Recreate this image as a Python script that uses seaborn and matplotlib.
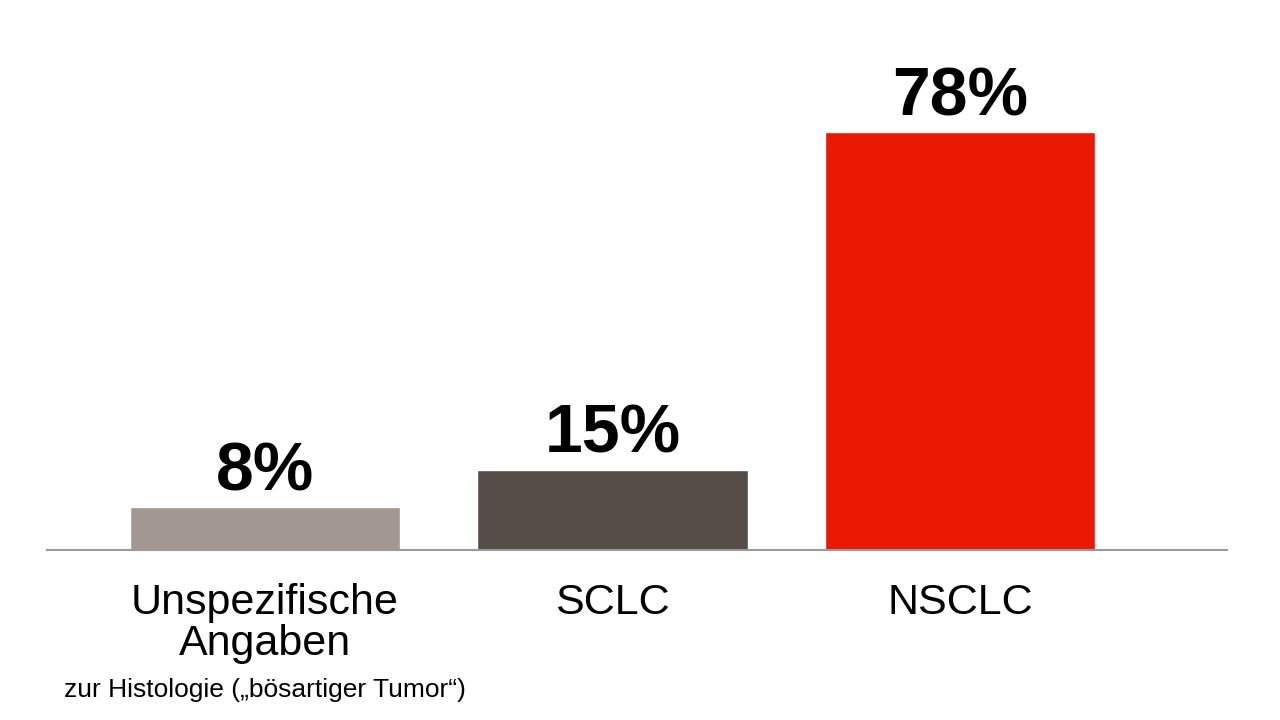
import pandas as pd
import seaborn as sns
import matplotlib.pyplot as plt

# values
categories = ['Unspezifische\nAngaben', 'SCLC', 'NSCLC']
shares = [8, 15, 78]
colors = ['#A39891', '#564C47', '#EA1A02']
subnote = 'zur Histologie (\u201ebösartiger Tumor\u201c)'

df = pd.DataFrame({'Kategorie': categories, 'Anteil': shares})

sns.set_style('white')
plt.rcParams['font.family'] = ['Liberation Sans', 'DejaVu Sans']

fig = plt.figure(figsize=(12.8, 7.2), dpi=100)
ax = fig.add_axes([47 / 1280, 170 / 720, 1180 / 1280, 510 / 720])

sns.barplot(data=df, x='Kategorie', y='Anteil', hue='Kategorie',
            palette=colors, width=0.777, saturation=1, legend=False, ax=ax)

ax.set_xlim(-0.627, 2.768)
ax.set_ylim(0, 95.1)

# percent labels above the bars
for i, v in enumerate(shares):
    ax.text(i, v + 3.1, f'{v}%', ha='center', va='baseline',
            fontsize=49, fontweight='bold', color='black')

sns.despine(ax=ax, left=True, top=True, right=True)
ax.spines['bottom'].set_color('#9a9a9a')
ax.spines['bottom'].set_linewidth(1.5)
ax.set_yticks([])
ax.set_xlabel('')
ax.set_ylabel('')
ax.tick_params(axis='x', length=0, pad=24, labelsize=31, labelcolor='black')
for lab in ax.get_xticklabels():
    lab.set_linespacing(1.02)

ax.text(0, -27.4, subnote, ha='center', va='baseline', fontsize=19, color='black')

fig.savefig('out.png', dpi=100)
